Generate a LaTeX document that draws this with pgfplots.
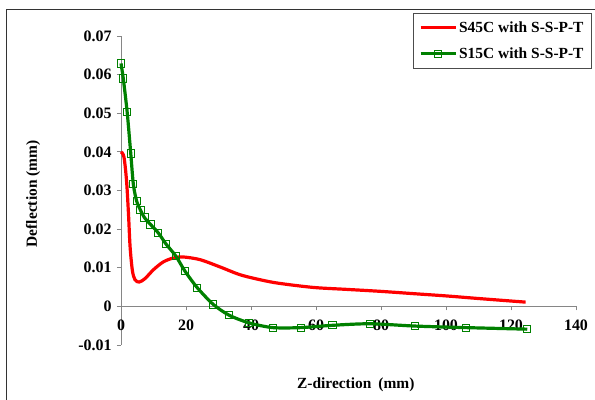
\documentclass[border=0pt]{standalone}
\usepackage{pgfplots}
\pgfplotsset{compat=1.18}
\usepackage{fontspec}
\setmainfont{Liberation Serif}
\definecolor{exred}{RGB}{255,0,0}
\definecolor{exgreen}{RGB}{0,128,0}
\definecolor{axgray}{RGB}{134,134,134}
\begin{document}
\begin{tikzpicture}
\useasboundingbox (0,0) rectangle (595bp,400bp);
\draw[line width=0.8bp, black!80] (6bp,-5bp) -- (6bp,391bp) -- (600bp,391bp);
\begin{axis}[
  at={(121bp,55bp)}, anchor=south west,
  scale only axis, width=455bp, height=309bp,
  xmin=0, xmax=140, ymin=-0.01, ymax=0.07,
  enlargelimits=false, clip=false,
  scaled y ticks=false, scaled x ticks=false,
  axis x line=middle, axis y line=left,
  axis line style={-, draw=axgray, line width=0.8bp},
  every tick/.style={draw=axgray, line width=0.8bp},
  tick align=outside, major tick length=4bp,
  hide obscured x ticks=false, hide obscured y ticks=false,
  xtick={0,20,...,140},
  ytick={-0.01,0,0.01,0.02,0.03,0.04,0.05,0.06,0.07},
  yticklabels={-0.01,0,0.01,0.02,0.03,0.04,0.05,0.06,0.07},
  /pgf/number format/assume math mode=true,
  ticklabel style={font=\fontsize{16}{19}\selectfont\bfseries},
  xticklabel style={yshift=-6bp},
  yticklabel style={xshift=-2bp},
  xlabel={Z-direction\hspace{0.45em}(mm)},
  ylabel={Deflection (mm)},
  label style={font=\fontsize{15.5}{18}\selectfont\bfseries},
  xlabel style={at={(axis description cs:0.516,-0.129)}, anchor=center},
  ylabel style={at={(axis description cs:-0.193,0.489)}, anchor=center, rotate=0},
  legend style={at={(axis description cs:1.035,1.074)}, anchor=north east,
    draw=black!70, line width=0.8bp, fill=white,
    font=\fontsize{15.5}{18}\selectfont\bfseries,
    inner xsep=6bp, inner ysep=6bp, row sep=10bp},
  legend cell align=left,
  legend image code/.code={\draw[mark repeat=2,mark phase=2] plot coordinates {(0bp,0bp) (17.5bp,0bp) (35bp,0bp)};},
]
\addplot[exred, line width=3.2bp, smooth] coordinates {
 (0,0.0400) (0.9,0.0387) (1.7,0.0326) (2.3,0.0240) (2.8,0.0154) (3.5,0.0093)
 (4.3,0.0069) (5.6,0.0063) (7.4,0.0072) (10,0.0095) (13,0.0115) (16,0.0125)
 (19,0.0128) (24.3,0.0121) (30.5,0.0102) (36.6,0.0082) (42.8,0.0069) (48.4,0.0060)
 (59.2,0.0049) (69.4,0.0044) (79.7,0.0039) (89.9,0.0033) (100.2,0.0027)
 (110.5,0.0020) (124.5,0.0011)
};
\addlegendentry{S45C with S-S-P-T}
\addplot[exgreen, line width=3.2bp, smooth, tension=0.45, mark=square,
  mark size=3.6bp, mark options={solid, line width=1bp, fill=none}] coordinates {
 (0,0.0629) (0.7,0.0590) (1.9,0.0503) (3.0,0.0396) (3.8,0.0316) (4.8,0.0273)
 (6.0,0.0249) (7.2,0.0230) (9.1,0.0212) (11.5,0.0190) (13.8,0.0162) (16.9,0.0130)
 (19.7,0.0091) (23.5,0.0048) (28.4,0.0005) (33.3,-0.0023) (39.5,-0.0043)
 (46.7,-0.0055) (55.3,-0.0055) (65.1,-0.0049) (76.6,-0.0045) (90.5,-0.0051)
 (106.2,-0.0055) (125,-0.0059)
};
\addlegendentry{S15C with S-S-P-T}
\end{axis}
\end{tikzpicture}
\end{document}
